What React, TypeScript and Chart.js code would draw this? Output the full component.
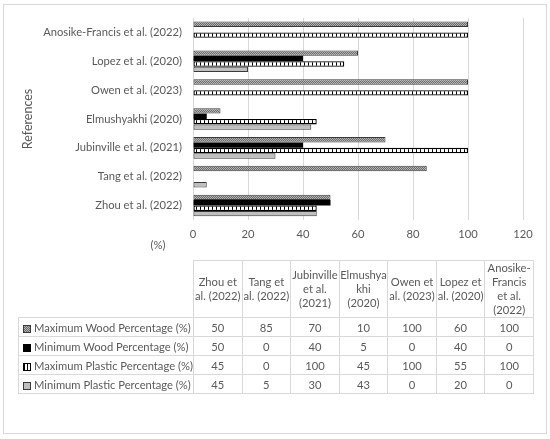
import React, { useEffect, useRef } from "react";
import { Chart, registerables } from "chart.js";

Chart.register(...registerables);

// Data (table order: left to right)
const categories = [
  "Zhou et al. (2022)",
  "Tang et al. (2022)",
  "Jubinville et al. (2021)",
  "Elmushyakhi (2020)",
  "Owen et al. (2023)",
  "Lopez et al. (2020)",
  "Anosike-Francis et al. (2022)",
];
const headerLines = [
  ["Zhou et", "al. (2022)"],
  ["Tang et", "al. (2022)"],
  ["Jubinville", "et al.", "(2021)"],
  ["Elmushya", "khi", "(2020)"],
  ["Owen et", "al. (2023)"],
  ["Lopez et", "al. (2020)"],
  ["Anosike-", "Francis", "et al.", "(2022)"],
];
const seriesNames = [
  "Maximum Wood Percentage (%)",
  "Minimum Wood Percentage (%)",
  "Maximum Plastic Percentage (%)",
  "Minimum Plastic Percentage (%)",
];
const maxWood = [50, 85, 70, 10, 100, 60, 100];
const minWood = [50, 0, 40, 5, 0, 40, 0];
const maxPlastic = [45, 0, 100, 45, 100, 55, 100];
const minPlastic = [45, 5, 30, 43, 0, 20, 0];
const xMin = 0;
const xMax = 120;
const xStep = 20;
const yTitle = "References";
const xTitle = "(%)";

const FONT = "Lato, 'Liberation Sans', sans-serif";
const TEXT = "#595959";
const GRID = "#d9d9d9";

function makePattern(kind: string): CanvasPattern | string {
  const c = document.createElement("canvas");
  const g = c.getContext("2d");
  if (!g) return "#888";
  if (kind === "dots") {
    c.width = 2;
    c.height = 2;
    g.fillStyle = "#6a6a6a";
    g.fillRect(0, 0, 2, 2);
    g.fillStyle = "#b4b4b4";
    g.fillRect(0, 0, 1, 1);
    g.fillRect(1, 1, 1, 1);
  } else {
    c.width = 4;
    c.height = 4;
    g.fillStyle = "#ffffff";
    g.fillRect(0, 0, 4, 4);
    g.fillStyle = "#000000";
    g.fillRect(0, 0, 1, 4);
  }
  return g.createPattern(c, "repeat") || "#888";
}

const rev = (a: any[]) => [...a].reverse();
const bw = (w: number) => (ctx: any) => (ctx.raw === 0 ? 0 : w);

const keyStyles: React.CSSProperties[] = [
  {
    background: "repeating-conic-gradient(#6a6a6a 0 25%, #b4b4b4 0 50%) 0 0/2px 2px",
    border: "1px solid #3a3a3a",
  },
  { background: "#000", border: "1px solid #000" },
  {
    background: "repeating-linear-gradient(90deg, #000 0 1px, #fff 1px 3px)",
    border: "1.5px solid #000",
  },
  { background: "#bfbfbf", border: "1px solid #3a3a3a" },
];

export default function App() {
  const ref = useRef<HTMLCanvasElement | null>(null);

  useEffect(() => {
    if (!ref.current) return;
    const dots = makePattern("dots");
    const grid = makePattern("grid");
    const chart = new Chart(ref.current, {
      type: "bar",
      data: {
        labels: rev(categories),
        datasets: [
          {
            label: seriesNames[0],
            data: rev(maxWood),
            backgroundColor: dots as any,
            borderColor: "#3a3a3a",
            borderWidth: bw(1) as any,
          },
          {
            label: seriesNames[1],
            data: rev(minWood),
            backgroundColor: "#000000",
            borderColor: "#000000",
            borderWidth: 0,
          },
          {
            label: seriesNames[2],
            data: rev(maxPlastic),
            backgroundColor: grid as any,
            borderColor: "#000000",
            borderWidth: bw(1.3) as any,
          },
          {
            label: seriesNames[3],
            data: rev(minPlastic),
            backgroundColor: "#bfbfbf",
            borderColor: "#3a3a3a",
            borderWidth: bw(1) as any,
          },
        ],
      },
      options: {
        indexAxis: "y",
        animation: false,
        responsive: true,
        maintainAspectRatio: false,
        layout: { padding: { left: 0, right: 27, top: 18, bottom: 10.6 } },
        datasets: { bar: { categoryPercentage: 0.75, barPercentage: 1, borderSkipped: false } } as any,
        plugins: { legend: { display: false }, tooltip: { enabled: false } },
        scales: {
          x: {
            min: xMin,
            max: xMax,
            ticks: { stepSize: xStep, color: TEXT, font: { family: FONT, size: 11.2 }, padding: 8 },
            grid: { color: GRID, drawTicks: false },
            border: { display: false },
          },
          y: {
            grid: { display: false, drawTicks: false },
            border: { display: false },
            ticks: { color: TEXT, font: { family: FONT, size: 11.2 }, padding: 11 },
            title: {
              display: true,
              text: yTitle,
              color: TEXT,
              font: { family: FONT, size: 12.5 },
              padding: { top: 20, bottom: 0 },
            },
            afterFit: (s: any) => {
              s.width = 193;
            },
          },
        },
      },
    });
    return () => chart.destroy();
  }, []);

  const cell: React.CSSProperties = {
    border: `1px solid ${GRID}`,
    padding: 0,
    textAlign: "center",
    verticalAlign: "middle",
    whiteSpace: "nowrap",
    overflow: "hidden",
  };

  const series = [maxWood, minWood, maxPlastic, minPlastic];

  return (
    <div style={{ position: "relative", width: 550, height: 439, background: "#fff", fontFamily: FONT, color: TEXT }}>
      <style>{`body{margin:0}`}</style>
      <div style={{ position: "absolute", left: 0, top: 0, width: 550, height: 260 }}>
        <canvas ref={ref} />
      </div>
      <div
        style={{
          position: "absolute",
          left: 140,
          top: 237,
          width: 36,
          textAlign: "center",
          fontSize: 11.2,
          lineHeight: "16px",
        }}
      >
        {xTitle}
      </div>
      <table
        style={{
          position: "absolute",
          left: 18,
          top: 260,
          borderCollapse: "collapse",
          tableLayout: "fixed",
          width: 515,
          fontSize: 11.2,
          color: TEXT,
          fontFamily: FONT,
        }}
      >
        <colgroup>
          <col style={{ width: 175 }} />
          {categories.map((c) => (
            <col key={c} style={{ width: 340 / categories.length }} />
          ))}
        </colgroup>
        <tbody>
          <tr style={{ height: 57 }}>
            <td style={{ border: "none", padding: 0 }} />
            {headerLines.map((lines, i) => (
              <td key={i} style={{ ...cell, lineHeight: "14px" }}>
                {lines.map((l, j) => (
                  <div key={j}>{l}</div>
                ))}
              </td>
            ))}
          </tr>
          {series.map((vals, si) => (
            <tr key={si} style={{ height: 19 }}>
              <td style={{ ...cell, textAlign: "left", lineHeight: "17px" }}>
                <span
                  style={{
                    display: "inline-block",
                    width: 8,
                    height: 8,
                    boxSizing: "border-box",
                    marginLeft: 4,
                    marginRight: 3,
                    verticalAlign: "-1px",
                    ...keyStyles[si],
                  }}
                />
                {seriesNames[si]}
              </td>
              {vals.map((v, ci) => (
                <td key={ci} style={{ ...cell, lineHeight: "17px" }}>
                  {v}
                </td>
              ))}
            </tr>
          ))}
        </tbody>
      </table>
      <div
        style={{
          position: "absolute",
          left: 3,
          top: 4,
          width: 544,
          height: 430,
          border: `1px solid ${GRID}`,
          boxSizing: "border-box",
          pointerEvents: "none",
        }}
      />
    </div>
  );
}
